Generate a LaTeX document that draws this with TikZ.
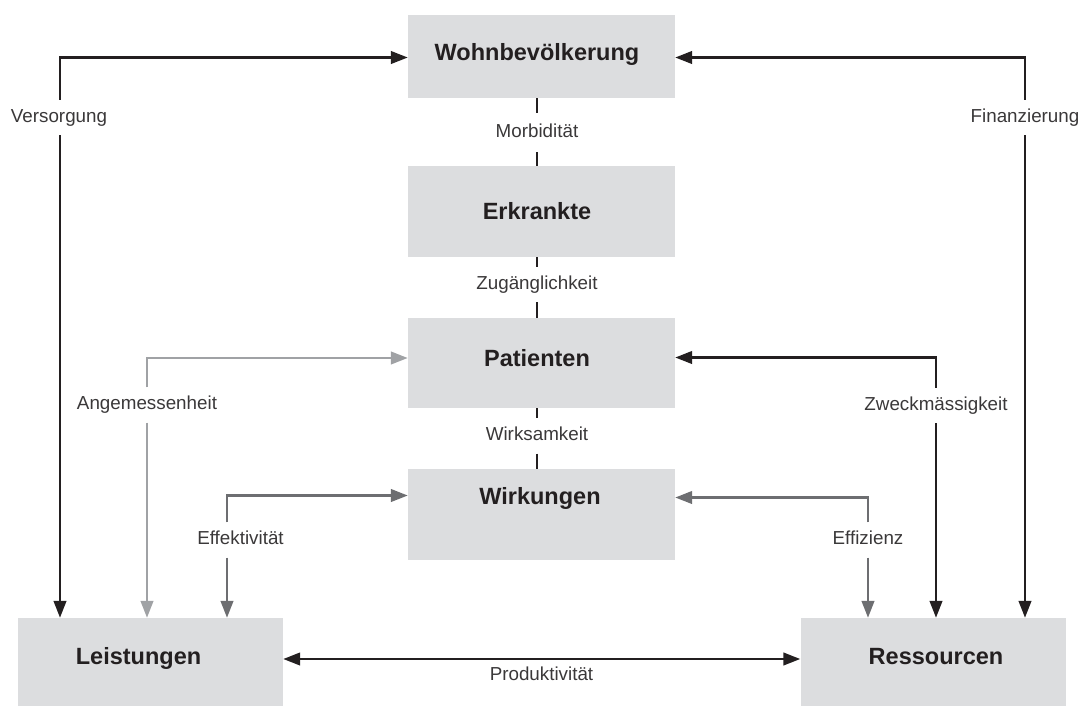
\documentclass[tikz,border=0pt]{standalone}
\usepackage{fontspec}
\setmainfont{Liberation Sans}
\usetikzlibrary{arrows.meta,calc}
\definecolor{ink}{HTML}{231F20}
\definecolor{lblink}{HTML}{3A3839}
\definecolor{lgray}{HTML}{A0A2A5}
\definecolor{mgray}{HTML}{6D6E71}
\definecolor{boxfill}{HTML}{DCDDDF}
\begin{document}
\begin{tikzpicture}[x=1pt,y=-1pt,
  box/.style={fill=boxfill, draw=none, inner sep=0pt, text=ink,
    font=\fontsize{23.5}{28}\selectfont\bfseries},
  cbox/.style={box, minimum width=267pt},
  sbox/.style={box, minimum width=265pt},
  lbl/.style={text=lblink, font=\fontsize{18.8}{22}\selectfont, inner xsep=4pt,
    inner ysep=9pt, text height=13pt, text depth=4pt},
  wire/.style={line width=2.6pt, draw=ink},
  arr/.style={wire, -{Triangle[length=17pt,width=12.5pt]}},
  biarr/.style={wire, {Triangle[length=17pt,width=12.5pt]}-{Triangle[length=17pt,width=12.5pt]}},
  light/.style={draw=lgray},
  mid/.style={draw=mgray},
]
\useasboundingbox (0,0) rectangle (1079,705);

% boxes
\node[cbox, minimum height=83pt, text height=18pt, text depth=10pt] (wohn) at (541.5,56.5) {\hspace*{-9pt}Wohnbevölkerung};
\node[cbox, minimum height=91pt, text height=25pt, text depth=10pt] (erk) at (541.5,211.5) {\hspace*{-9pt}Erkrankte};
\node[cbox, minimum height=90pt, text height=16pt, text depth=10pt] (pat) at (541.5,363) {\hspace*{-9pt}Patienten};
\node[cbox, minimum height=91pt, text height=4pt, text depth=25pt] (wirk) at (541.5,514.5) {\hspace*{-3pt}Wirkungen};
\node[sbox, minimum height=94pt, text height=9pt, text depth=10pt] (leist) at (150.5,665) {\hspace*{-24pt}Leistungen};
\node[sbox, minimum height=94pt, text height=9pt, text depth=10pt] (ress) at (933,665) {\hspace*{6pt}Ressourcen};

% labels
\node[lbl] (vers) at (59,117.5) {Versorgung};
\node[lbl] (fin) at (1025,117.5) {Finanzierung};
\node[lbl, inner ysep=11pt] (morb) at (537,132.5) {Morbidität};
\node[lbl] (zug) at (537,284.5) {Zugänglichkeit};
\node[lbl] (wirks) at (537,436) {Wirksamkeit};
\node[lbl] (ang) at (147,405) {Angemessenheit};
\node[lbl] (zweck) at (936,405.5) {Zweckmässigkeit};
\node[lbl] (effek) at (240.5,540) {Effektivität};
\node[lbl] (effiz) at (868,540) {Effizienz};
\node[lbl] (prod) at (541.5,676) {Produktivität};
\coordinate (effx) at (227,540);
\coordinate (versx) at (60,117.5);

% central chain
\draw[wire] (morb |- wohn.south) -- (morb.north);
\draw[wire] (morb.south) -- (morb |- erk.north);
\draw[wire] (zug |- erk.south) -- (zug.north);
\draw[wire] (zug.south) -- (zug |- pat.north);
\draw[wire] (wirks |- pat.south) -- (wirks.north);
\draw[wire] (wirks.south) -- (wirks |- wirk.north);

% Versorgung / Finanzierung
\draw[arr] (versx |- vers.north) |- ([yshift=-1pt]wohn.west);
\draw[arr] (versx |- vers.south) -- (versx |- leist.north);
\draw[arr] (fin.north) |- ([yshift=-1pt]wohn.east);
\draw[arr] (fin.south) -- (fin |- ress.north);

% Angemessenheit / Zweckmässigkeit
\draw[arr, light] (ang.north) |- ([yshift=5pt]pat.west);
\draw[arr, light] (ang.south) -- (ang |- leist.north);
\draw[arr] (zweck.north) |- ([yshift=5.5pt]pat.east);
\draw[arr] (zweck.south) -- (zweck |- ress.north);

% Effektivität / Effizienz
\draw[arr, mid] (effx |- effek.north) |- ([yshift=19pt]wirk.west);
\draw[arr, mid] (effx |- effek.south) -- (effx |- leist.north);
\draw[arr, mid] (effiz.north) |- ([yshift=17pt]wirk.east);
\draw[arr, mid] (effiz.south) -- (effiz |- ress.north);

% Produktivität
\draw[biarr] ([yshift=6pt]leist.east) -- ([yshift=6pt]ress.west);
\end{tikzpicture}
\end{document}
